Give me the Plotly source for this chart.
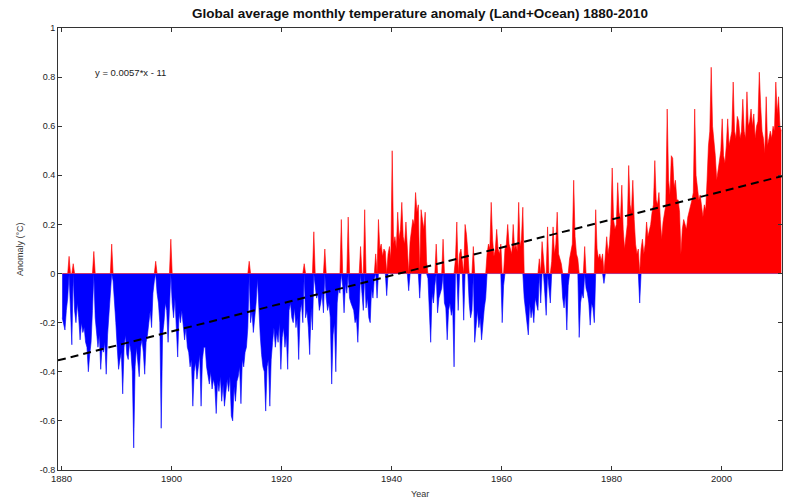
import numpy as np
import plotly.graph_objects as go

# Quarterly anomaly values (deg C), 4 per year
anom_1880s = [-0.18, -0.20, -0.23, -0.15,  -0.10, 0.07, -0.14, -0.29,  0.04, -0.15, -0.20, -0.12,
              -0.18, -0.27, -0.20, -0.24,  -0.22, -0.28, -0.30, -0.40,  -0.33, -0.28, -0.15, 0.09,
              -0.18, -0.26, -0.30, -0.25,  -0.39, -0.30, -0.32, -0.28,  -0.41, -0.25, -0.17, -0.12,
              0.12, -0.03, -0.10, -0.20]
anom_1890s = [-0.30, -0.39, -0.35, -0.32,  -0.49, -0.30, -0.25, -0.33,  -0.35, -0.28, -0.32, -0.40,
              -0.71, -0.38, -0.30, -0.35,  -0.42, -0.30, -0.27, -0.32,  -0.41, -0.28, -0.25, -0.20,
              -0.15, -0.22, -0.08, -0.03,  0.05, -0.08, -0.12, -0.20,  -0.63, -0.25, -0.20, -0.12,
              -0.15, -0.28, -0.10, 0.14]
anom_1900s = [-0.12, -0.18, -0.10, -0.20,  -0.34, -0.16, -0.20, -0.15,  -0.20, -0.27, -0.22, -0.30,
              -0.32, -0.38, -0.35, -0.54,  -0.40, -0.36, -0.43, -0.38,  -0.33, -0.54, -0.35, -0.30,
              -0.30, -0.38, -0.42, -0.45,  -0.40, -0.47, -0.43, -0.46,  -0.57, -0.44, -0.48, -0.42,
              -0.52, -0.45, -0.54, -0.48]
anom_1910s = [-0.43, -0.48, -0.42, -0.58,  -0.60, -0.46, -0.52, -0.44,  -0.42, -0.38, -0.53, -0.35,
              -0.38, -0.32, -0.30, -0.22,  0.05, -0.20, -0.15, -0.24,  -0.18, -0.12, -0.02, -0.15,
              -0.25, -0.33, -0.38, -0.40,  -0.56, -0.38, -0.35, -0.54,  -0.35, -0.28, -0.22, -0.30,
              -0.24, -0.28, -0.20, -0.39]
anom_1920s = [-0.26, -0.22, -0.30, -0.25,  -0.39, -0.15, -0.12, -0.18,  -0.20, -0.14, -0.22, -0.18,
              -0.35, -0.16, -0.12, -0.20,  0.04, -0.18, -0.15, -0.22,  -0.33, -0.14, -0.23, 0.17,
              -0.06, -0.10, -0.08, -0.15,  -0.12, -0.08, -0.16, 0.10,  -0.10, -0.15, -0.12, -0.18,
              -0.45, -0.25, -0.20, -0.40]
anom_1930s = [-0.12, -0.06, -0.08, 0.22,  -0.05, -0.16, -0.04, -0.08,  0.23, -0.10, -0.12, -0.14,
              -0.15, -0.20, -0.18, -0.28,  -0.12, 0.11, -0.08, -0.15,  0.26, -0.14, -0.10, -0.18,
              -0.20, -0.06, -0.10, -0.02,  0.08, -0.10, 0.22, 0.10,  0.12, 0.07, 0.10, 0.09,
              -0.09, 0.08, 0.11, 0.06]
anom_1940s = [0.50, 0.12, 0.15, 0.10,  0.25, 0.14, 0.18, 0.29,  0.15, 0.12, 0.21, 0.10,
              -0.07, 0.13, 0.18, 0.22,  0.20, 0.33, 0.25, 0.28,  -0.10, 0.26, 0.22, 0.18,
              0.25, 0.05, -0.02, -0.13,  -0.28, -0.08, -0.12, -0.05,  0.12, -0.16, -0.10, -0.08,
              -0.06, 0.14, -0.12, -0.14]
anom_1950s = [-0.27, -0.15, -0.12, -0.17,  -0.14, -0.38, 0.06, 0.21,  -0.15, 0.08, 0.10, 0.06,
              -0.19, 0.20, 0.16, 0.09,  -0.12, -0.18, -0.15, 0.11,  -0.28, -0.20, -0.15, -0.22,
              -0.18, -0.27, -0.20, -0.14,  -0.10, 0.08, 0.12, 0.10,  0.29, 0.14, 0.07, 0.10,
              0.18, 0.10, 0.08, 0.12]
anom_1960s = [-0.20, -0.05, 0.10, 0.12,  0.20, 0.12, 0.10, 0.08,  0.20, 0.10, 0.12, 0.09,
              0.29, 0.11, 0.14, 0.27,  -0.10, -0.15, -0.20, -0.25,  -0.12, -0.18, -0.14, -0.20,
              -0.10, -0.12, -0.15, 0.06,  -0.12, 0.13, 0.05, -0.08,  -0.17, 0.19, -0.05, -0.12,
              0.05, 0.19, 0.08, 0.12]
anom_1970s = [0.25, 0.08, 0.06, 0.04,  -0.10, -0.14, -0.08, -0.23,  -0.05, 0.06, 0.10, 0.12,
              0.38, 0.15, 0.08, 0.06,  -0.26, -0.12, -0.08, -0.10,  0.11, -0.06, -0.08, -0.12,
              -0.21, -0.12, -0.14, -0.20,  0.26, 0.10, 0.06, 0.08,  0.05, 0.08, -0.04, 0.06,
              0.15, 0.08, 0.12, 0.20]
anom_1980s = [0.43, 0.22, 0.18, 0.20,  0.37, 0.25, 0.22, 0.36,  0.18, 0.10, 0.14, 0.20,
              0.44, 0.28, 0.25, 0.38,  0.22, 0.12, 0.08, 0.10,  -0.12, 0.10, 0.14, 0.08,
              0.12, 0.21, 0.15, 0.18,  0.20, 0.25, 0.28, 0.46,  0.30, 0.28, 0.33, 0.22,
              0.14, 0.21, 0.25, 0.28]
anom_1990s = [0.67, 0.38, 0.32, 0.48,  0.47, 0.35, 0.38, 0.30,  0.30, 0.25, 0.08, 0.18,
              0.22, 0.20, 0.18, 0.23,  0.25, 0.28, 0.30, 0.33,  0.67, 0.40, 0.35, 0.30,
              0.32, 0.28, 0.23, 0.28,  0.26, 0.38, 0.52, 0.58,  0.84, 0.60, 0.55, 0.48,
              0.38, 0.42, 0.45, 0.50]
anom_2000s = [0.63, 0.48, 0.45, 0.52,  0.63, 0.52, 0.55, 0.58,  0.78, 0.58, 0.55, 0.64,
              0.62, 0.55, 0.58, 0.71,  0.58, 0.55, 0.74, 0.60,  0.62, 0.67, 0.60, 0.65,
              0.55, 0.60, 0.62, 0.82,  0.68, 0.58, 0.55, 0.49,  0.72, 0.52, 0.55, 0.58,
              0.55, 0.60, 0.58, 0.78]
anom_2010 = [0.65, 0.72, 0.60, 0.58]

start_year = 1880
steps_per_year = 4

trend_slope = 0.0057
trend_intercept = -11.066
trend_label = "y = 0.0057*x - 11"

x_tick_years = [1880, 1900, 1920, 1940, 1960, 1980, 2000]
y_tick_values = [-0.8, -0.6, -0.4, -0.2, 0, 0.2, 0.4, 0.6, 0.8, 1]
y_tick_labels = ["-0.8", "-0.6", "-0.4", "-0.2", "0", "0.2", "0.4", "0.6", "0.8", "1"]

title_text = "Global average monthly temperature anomaly (Land+Ocean) 1880-2010"

values = np.array(anom_1880s + anom_1890s + anom_1900s + anom_1910s + anom_1920s + anom_1930s
                  + anom_1940s + anom_1950s + anom_1960s + anom_1970s + anom_1980s + anom_1990s
                  + anom_2000s + anom_2010)
years = start_year + (np.arange(len(values)) + 0.5) / steps_per_year

pos = np.maximum(values, 0)
neg = np.minimum(values, 0)

x_range = [1879.36, 2011.0]

fig = go.Figure()
fig.add_trace(go.Scatter(x=years, y=neg, mode="lines", fill="tozeroy",
                         line=dict(color="#0000ff", width=0.6), fillcolor="#0000ff",
                         hoverinfo="skip"))
fig.add_trace(go.Scatter(x=years, y=pos, mode="lines", fill="tozeroy",
                         line=dict(color="#ff0000", width=0.6), fillcolor="#ff0000",
                         hoverinfo="skip"))
tx = np.array(x_range)
fig.add_trace(go.Scatter(x=tx, y=trend_slope * tx + trend_intercept, mode="lines",
                         line=dict(color="black", width=2, dash="8px,5px"), hoverinfo="skip"))

fig.add_annotation(x=1885.7, y=0.82, xref="x", yref="y", text=trend_label, showarrow=False,
                   xanchor="left", yanchor="middle", font=dict(size=9.5, color="#222"))
fig.add_annotation(x=0.5, y=-24 / 442, xref="paper", yref="paper", text="Year", showarrow=False,
                   xanchor="center", yanchor="middle", font=dict(size=9, color="#333"))
fig.add_annotation(x=-38 / 724, y=0.5, xref="paper", yref="paper", text="Anomaly (°C)",
                   showarrow=False, textangle=-90, xanchor="center", yanchor="middle",
                   font=dict(size=9, color="#333"))

fig.update_layout(
    width=785, height=501,
    margin=dict(l=58, r=3, t=28, b=31),
    plot_bgcolor="white", paper_bgcolor="white",
    showlegend=False,
    font=dict(family="Liberation Sans, Arial, sans-serif", size=9, color="#222"),
    title=dict(text="<b>" + title_text + "</b>", x=0.5, xref="paper", y=1 - 13 / 501,
               yref="container", xanchor="center", yanchor="middle",
               font=dict(size=13.5, color="#111")),
    xaxis=dict(range=x_range, tickvals=x_tick_years, ticks="inside", ticklen=4,
               tickcolor="#333", showline=True, linecolor="#333", linewidth=1, mirror="ticks",
               showgrid=False, zeroline=False, tickfont=dict(size=9.5)),
    yaxis=dict(range=[-0.8, 1], tickvals=y_tick_values, ticktext=y_tick_labels, ticks="inside",
               ticklen=4, tickcolor="#333", showline=True, linecolor="#333", linewidth=1,
               mirror="ticks", showgrid=False, zeroline=False, tickfont=dict(size=9)),
)

fig.write_html("out.html", config={"displayModeBar": False},
               post_script="document.body.style.margin='0';document.body.style.overflow='hidden';")
